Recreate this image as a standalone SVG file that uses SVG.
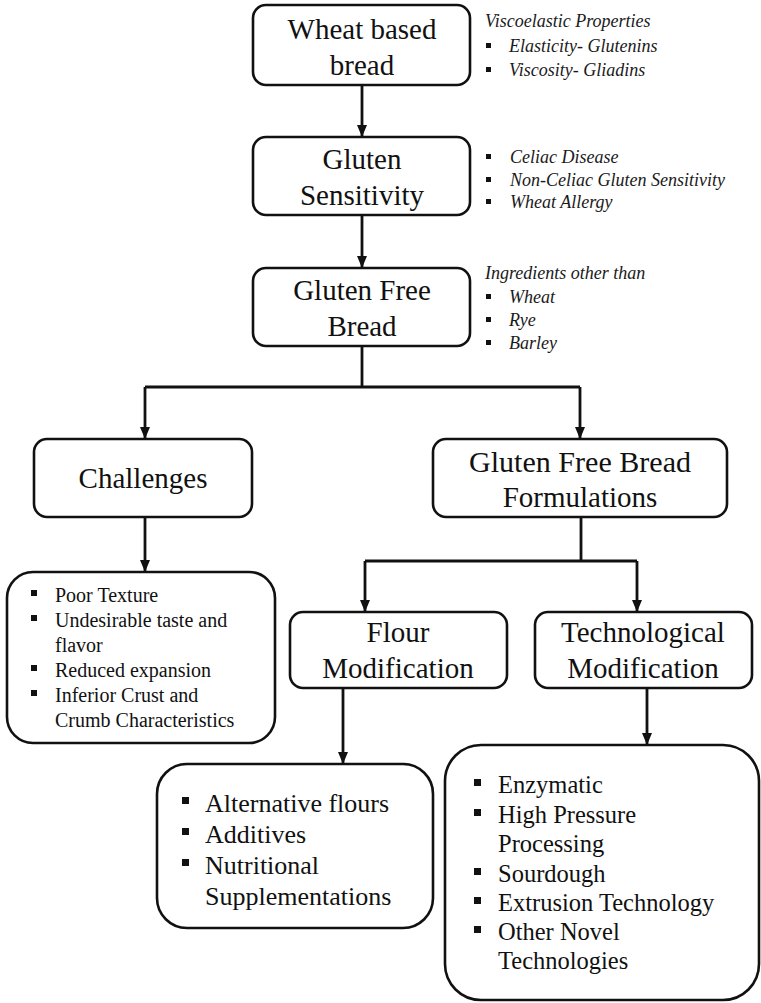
<svg xmlns="http://www.w3.org/2000/svg" width="761" height="1003" viewBox="0 0 761 1003">
<style>
.box{fill:#fff;stroke:#111;stroke-width:2.6}
text{font-family:'Liberation Serif','DejaVu Serif',serif}
.t{fill:#111;text-anchor:middle;font-size:29px}
.n{fill:#1a1a1a;font-style:italic;font-size:18px}
.l{fill:#111}
.c{fill:none;stroke:#111;stroke-width:2.8}
.b{fill:#111}
</style>
<defs>
<marker id="ah" markerUnits="userSpaceOnUse" markerWidth="12" markerHeight="10" refX="12" refY="5" orient="auto">
<path d="M0,0 L12,5 L0,10 z" fill="#111"/>
</marker>
</defs>
<rect width="761" height="1003" fill="#fff"/>
<g id="connectors">
<path class="c" d="M362,85 V137" marker-end="url(#ah)"/>
<path class="c" d="M362,215 V268" marker-end="url(#ah)"/>
<path class="c" d="M362,346 V387"/>
<path class="c" d="M145,387 H580"/>
<path class="c" d="M145,387 V439" marker-end="url(#ah)"/>
<path class="c" d="M580,387 V439" marker-end="url(#ah)"/>
<path class="c" d="M145,517 V572" marker-end="url(#ah)"/>
<path class="c" d="M581,517 V561"/>
<path class="c" d="M365,561 H637"/>
<path class="c" d="M365,561 V612" marker-end="url(#ah)"/>
<path class="c" d="M637,561 V612" marker-end="url(#ah)"/>
<path class="c" d="M343,688 V764" marker-end="url(#ah)"/>
<path class="c" d="M647,688 V745" marker-end="url(#ah)"/>
</g>
<g id="wheat">
<rect class="box" x="253" y="5" width="217" height="80" rx="13"/>
<text class="t" x="362" y="39" font-family="Liberation Serif">Wheat based</text>
<text class="t" x="362" y="75" font-family="Liberation Serif">bread</text>
</g>
<g id="wheat-notes">
<text class="n" x="485" y="27">Viscoelastic Properties</text>
<rect class="b" x="486" y="43" width="5" height="5"/>
<text class="n" x="509" y="52">Elasticity- Glutenins</text>
<rect class="b" x="486" y="67" width="5" height="5"/>
<text class="n" x="509" y="76">Viscosity- Gliadins</text>
</g>
<g id="sensitivity">
<rect class="box" x="253" y="137" width="217" height="78" rx="13"/>
<text class="t" x="362" y="169">Gluten</text>
<text class="t" x="362" y="205">Sensitivity</text>
</g>
<g id="sensitivity-notes">
<rect class="b" x="486" y="154" width="5" height="5"/>
<text class="n" x="510" y="163">Celiac Disease</text>
<rect class="b" x="486" y="177" width="5" height="5"/>
<text class="n" x="510" y="186">Non-Celiac Gluten Sensitivity</text>
<rect class="b" x="486" y="199" width="5" height="5"/>
<text class="n" x="510" y="208">Wheat Allergy</text>
</g>
<g id="gfbread">
<rect class="box" x="253" y="268" width="217" height="78" rx="13"/>
<text class="t" x="362" y="300">Gluten Free</text>
<text class="t" x="362" y="336">Bread</text>
</g>
<g id="gfbread-notes">
<text class="n" x="485" y="279">Ingredients other than</text>
<rect class="b" x="486" y="294" width="5" height="5"/>
<text class="n" x="509" y="303">Wheat</text>
<rect class="b" x="486" y="317" width="5" height="5"/>
<text class="n" x="509" y="326">Rye</text>
<rect class="b" x="486" y="340" width="5" height="5"/>
<text class="n" x="509" y="349">Barley</text>
</g>
<g id="challenges">
<rect class="box" x="34" y="439" width="218" height="78" rx="13"/>
<text class="t" x="143" y="488">Challenges</text>
</g>
<g id="formulations">
<rect class="box" x="433" y="439" width="294" height="78" rx="13"/>
<text class="t" x="580" y="472" textLength="222" lengthAdjust="spacingAndGlyphs">Gluten Free Bread</text>
<text class="t" x="580" y="507">Formulations</text>
</g>
<g id="challenges-list">
<rect class="box" x="7" y="572" width="268" height="171" rx="26"/>
<g class="l" font-size="20">
<rect class="b" x="31" y="590" width="6" height="6"/>
<text x="55" y="602">Poor Texture</text>
<rect class="b" x="31" y="615" width="6" height="6"/>
<text x="55" y="627">Undesirable taste and</text>
<text x="55" y="652">flavor</text>
<rect class="b" x="31" y="665" width="6" height="6"/>
<text x="55" y="677">Reduced expansion</text>
<rect class="b" x="31" y="690" width="6" height="6"/>
<text x="55" y="702">Inferior Crust and</text>
<text x="55" y="727">Crumb Characteristics</text>
</g>
</g>
<g id="flour">
<rect class="box" x="290" y="612" width="217" height="76" rx="13"/>
<text class="t" x="398" y="642">Flour</text>
<text class="t" x="398" y="678">Modification</text>
</g>
<g id="tech">
<rect class="box" x="535" y="612" width="217" height="76" rx="13"/>
<text class="t" x="643" y="642">Technological</text>
<text class="t" x="643" y="678">Modification</text>
</g>
<g id="flour-list">
<rect class="box" x="157" y="764" width="276" height="164" rx="30"/>
<g class="l" font-size="26">
<rect class="b" x="182" y="797" width="7" height="7"/>
<text x="205" y="812">Alternative flours</text>
<rect class="b" x="182" y="828" width="7" height="7"/>
<text x="205" y="843">Additives</text>
<rect class="b" x="182" y="859" width="7" height="7"/>
<text x="205" y="874">Nutritional</text>
<text x="205" y="905">Supplementations</text>
</g>
</g>
<g id="tech-list">
<rect class="box" x="445" y="745" width="314" height="255" rx="36"/>
<g class="l" font-size="24.5">
<rect class="b" x="474" y="779" width="7" height="7"/>
<text x="498" y="793">Enzymatic</text>
<rect class="b" x="474" y="809" width="7" height="7"/>
<text x="498" y="823">High Pressure</text>
<text x="498" y="852">Processing</text>
<rect class="b" x="474" y="868" width="7" height="7"/>
<text x="498" y="882">Sourdough</text>
<rect class="b" x="474" y="897" width="7" height="7"/>
<text x="498" y="911">Extrusion Technology</text>
<rect class="b" x="474" y="926" width="7" height="7"/>
<text x="498" y="940">Other Novel</text>
<text x="498" y="969">Technologies</text>
</g>
</g>
</svg>
